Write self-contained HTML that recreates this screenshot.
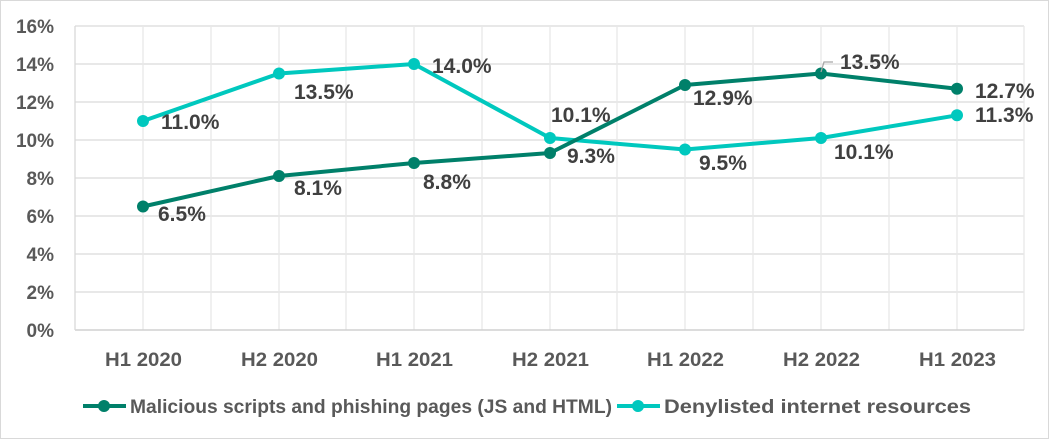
<!DOCTYPE html>
<html><head><meta charset="utf-8"><style>
html,body{margin:0;padding:0;background:#fff;}
svg{display:block;font-family:"Liberation Sans",Arial,sans-serif;font-weight:bold;}
</style></head><body>
<svg width="1049" height="439" viewBox="0 0 1049 439" xmlns="http://www.w3.org/2000/svg">
<rect x="0.5" y="0.5" width="1048" height="438" fill="#fff" stroke="#d9d9d9"/>
<g stroke="#d9d9d9" stroke-width="1.3">
<line x1="75" y1="26" x2="1024" y2="26"/><line x1="75" y1="64" x2="1024" y2="64"/>
<line x1="75" y1="102" x2="1024" y2="102"/><line x1="75" y1="140" x2="1024" y2="140"/>
<line x1="75" y1="178" x2="1024" y2="178"/><line x1="75" y1="216" x2="1024" y2="216"/>
<line x1="75" y1="254" x2="1024" y2="254"/><line x1="75" y1="292" x2="1024" y2="292"/>
</g>
<g stroke="#e8e8e8" stroke-width="1.3">
<line x1="143" y1="26" x2="143" y2="330"/><line x1="211" y1="26" x2="211" y2="330"/>
<line x1="279" y1="26" x2="279" y2="330"/><line x1="346" y1="26" x2="346" y2="330"/>
<line x1="414" y1="26" x2="414" y2="330"/><line x1="482" y1="26" x2="482" y2="330"/>
<line x1="550" y1="26" x2="550" y2="330"/><line x1="617" y1="26" x2="617" y2="330"/>
<line x1="685" y1="26" x2="685" y2="330"/><line x1="753" y1="26" x2="753" y2="330"/>
<line x1="821" y1="26" x2="821" y2="330"/><line x1="889" y1="26" x2="889" y2="330"/>
<line x1="957" y1="26" x2="957" y2="330"/><line x1="1024" y1="26" x2="1024" y2="330"/>
</g>
<line x1="75" y1="330" x2="1024" y2="330" stroke="#d0d0d0" stroke-width="1.5"/>
<line x1="75" y1="26" x2="75" y2="330" stroke="#d9d9d9" stroke-width="1.3"/>
<g fill="#595959" font-size="19" text-anchor="end">
<text x="54" y="33">16%</text><text x="54" y="71">14%</text><text x="54" y="109">12%</text>
<text x="54" y="147">10%</text><text x="54" y="185">8%</text><text x="54" y="223">6%</text>
<text x="54" y="261">4%</text><text x="54" y="299">2%</text><text x="54" y="337">0%</text>
</g>
<g fill="#595959" font-size="19">
<text x="105" y="366" textLength="77" lengthAdjust="spacingAndGlyphs">H1 2020</text>
<text x="241" y="366" textLength="77" lengthAdjust="spacingAndGlyphs">H2 2020</text>
<text x="376" y="366" textLength="77" lengthAdjust="spacingAndGlyphs">H1 2021</text>
<text x="512" y="366" textLength="77" lengthAdjust="spacingAndGlyphs">H2 2021</text>
<text x="647" y="366" textLength="77" lengthAdjust="spacingAndGlyphs">H1 2022</text>
<text x="783" y="366" textLength="77" lengthAdjust="spacingAndGlyphs">H2 2022</text>
<text x="919" y="366" textLength="77" lengthAdjust="spacingAndGlyphs">H1 2023</text>
</g>
<polyline fill="none" stroke="#00c8be" stroke-width="4" stroke-linejoin="round" points="143,121 279,73.5 414,64 550,138 685,149.5 821,138 957,115.3"/>
<g fill="#00c8be">
<circle cx="143" cy="121" r="6"/><circle cx="279" cy="73.5" r="6"/><circle cx="414" cy="64" r="6"/>
<circle cx="550" cy="138" r="6"/><circle cx="685" cy="149.5" r="6"/><circle cx="821" cy="138" r="6"/><circle cx="957" cy="115.3" r="6"/>
</g>
<polyline fill="none" stroke="#00806a" stroke-width="4" stroke-linejoin="round" points="143,206.5 279,176 414,163 550,153 685,85 821,73.5 957,88.7"/>
<g fill="#00806a">
<circle cx="143" cy="206.5" r="6"/><circle cx="279" cy="176" r="6"/><circle cx="414" cy="163" r="6"/>
<circle cx="550" cy="153" r="6"/><circle cx="685" cy="85" r="6"/><circle cx="821" cy="73.5" r="6"/><circle cx="957" cy="88.7" r="6"/>
</g>
<polyline fill="none" stroke="#a6a6a6" stroke-width="1.3" points="821,72 824,62 833,62"/>
<g fill="#404040" font-size="21">
<text x="158" y="221">6.5%</text><text x="161" y="129">11.0%</text>
<text x="294" y="99">13.5%</text><text x="294" y="195">8.1%</text>
<text x="432" y="73">14.0%</text><text x="423" y="189">8.8%</text>
<text x="551" y="122">10.1%</text><text x="567" y="163">9.3%</text>
<text x="693" y="105">12.9%</text><text x="699" y="170">9.5%</text>
<text x="840" y="69">13.5%</text><text x="834" y="159">10.1%</text>
<text x="975" y="98">12.7%</text><text x="975" y="122">11.3%</text>
</g>
<line x1="83" y1="406" x2="126" y2="406" stroke="#00806a" stroke-width="4"/>
<circle cx="104" cy="406" r="6" fill="#00806a"/>
<text x="130" y="413" font-size="19" fill="#595959" textLength="482" lengthAdjust="spacingAndGlyphs">Malicious scripts and phishing pages (JS and HTML)</text>
<line x1="617" y1="406" x2="660" y2="406" stroke="#00c8be" stroke-width="4"/>
<circle cx="638" cy="406" r="6" fill="#00c8be"/>
<text x="664" y="413" font-size="19" fill="#595959" textLength="307" lengthAdjust="spacingAndGlyphs">Denylisted internet resources</text>
</svg>
</body></html>
